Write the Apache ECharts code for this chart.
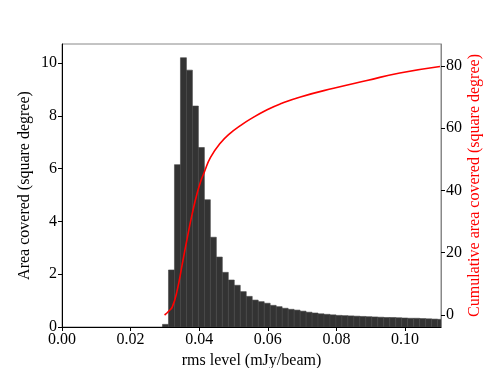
<!DOCTYPE html>
<html>
<head>
<meta charset="utf-8">
<script src="https://cdn.jsdelivr.net/npm/echarts@6/dist/echarts.min.js"></script>
<style>
html, body { margin: 0; padding: 0; background: #fff; }
#main { width: 490px; height: 368px; }
</style>
</head>
<body>
<div id="main"></div>
<script>
// histogram bins (mJy/beam)
var binStart = 0.0293;
var binWidth = 0.001744;
var areaCovered = [0.10, 2.16, 6.15, 10.2, 9.73, 8.37, 6.80, 4.82, 3.40, 2.65,
	2.07, 1.78, 1.58, 1.34, 1.16, 1.02, 0.96, 0.90, 0.82, 0.77,
	0.71, 0.67, 0.64, 0.60, 0.56, 0.53, 0.50, 0.48, 0.46, 0.44,
	0.43, 0.42, 0.41, 0.40, 0.39, 0.38, 0.37, 0.36, 0.36, 0.35,
	0.34, 0.33, 0.33, 0.32, 0.31, 0.30, 0.29];

// cumulative curve
var cumRms = [0.0299, 0.0311, 0.0322, 0.0336, 0.0351, 0.0365, 0.0380, 0.0394, 0.0406, 0.0414,
	0.0433, 0.0462, 0.0491, 0.0520, 0.0549, 0.0598, 0.0637, 0.0695, 0.0792, 0.0889, 0.0985, 0.1102];
var cumArea = [0.0, 1.2, 2.7, 8.0, 16.6, 24.6, 32.7, 39.1, 43.4, 45.6,
	50.6, 55.2, 58.4, 60.8, 62.9, 65.9, 67.8, 70.0, 72.8, 75.3, 77.7, 79.8];

var xTicks = [0, 0.02, 0.04, 0.06, 0.08, 0.10];
var leftTicks = [0, 2, 4, 6, 8, 10];
var rightTicks = [0, 20, 40, 60, 80];

var font = '"Liberation Serif", "DejaVu Serif", serif';

var bars = [];
for (var i = 0; i < areaCovered.length; i++) {
	bars.push([binStart + i * binWidth, binStart + (i + 1) * binWidth, areaCovered[i]]);
}
var curve = [];
for (var j = 0; j < cumRms.length; j++) {
	curve.push([cumRms[j], cumArea[j]]);
}

var chart = echarts.init(document.getElementById('main'));
var option = {
	animation: false,
	backgroundColor: '#fff',
	grid: {
		left: 62, right: 49, top: 44, bottom: 41,
		containLabel: false, outerBoundsMode: 'none',
		show: true, borderColor: '#888', borderWidth: 1
	},
	xAxis: {
		type: 'value',
		min: 0,
		max: 0.1105,
		name: 'rms level (mJy/beam)',
		nameLocation: 'middle',
		nameGap: 26,
		nameTextStyle: { fontFamily: font, fontSize: 16, color: '#000' },
		splitLine: { show: false },
		axisLine: { lineStyle: { color: '#000', width: 1 } },
		axisTick: { show: true, length: 4, lineStyle: { color: '#000' }, customValues: xTicks },
		axisLabel: {
			fontFamily: font, fontSize: 16, color: '#000', margin: 5,
			customValues: xTicks,
			formatter: function (v) { return v.toFixed(2); }
		}
	},
	yAxis: [{
		type: 'value',
		min: 0,
		max: 10.72,
		name: 'Area covered (square degree)',
		nameLocation: 'middle',
		nameGap: 29,
		nameMoveOverlap: false,
		nameTextStyle: { fontFamily: font, fontSize: 16, color: '#000' },
		splitLine: { show: false },
		axisLine: { show: true, lineStyle: { color: '#000', width: 1 } },
		axisTick: { show: true, length: 4, lineStyle: { color: '#000' }, customValues: leftTicks },
		axisLabel: { fontFamily: font, fontSize: 16, color: '#000', margin: 5, customValues: leftTicks }
	}, {
		type: 'value',
		position: 'right',
		min: -3.85,
		max: 87,
		name: 'Cumulative area covered (square degree)',
		nameLocation: 'middle',
		nameGap: 26,
		nameRotate: 90,
		nameMoveOverlap: false,
		nameTextStyle: { fontFamily: font, fontSize: 16, color: '#ff0000' },
		splitLine: { show: false },
		axisLine: { show: true, lineStyle: { color: '#888', width: 1 } },
		axisTick: { show: true, length: 4, lineStyle: { color: '#000' }, customValues: rightTicks },
		axisLabel: { fontFamily: font, fontSize: 16, color: '#000', margin: 5, customValues: rightTicks }
	}],
	series: [{
		type: 'custom',
		yAxisIndex: 0,
		clip: true,
		data: bars,
		encode: { x: [0, 1], y: 2 },
		renderItem: function (params, api) {
			var p0 = api.coord([api.value(0), api.value(2)]);
			var p1 = api.coord([api.value(1), 0]);
			var rect = echarts.graphic.clipRectByRect({
				x: p0[0], y: p0[1], width: p1[0] - p0[0], height: p1[1] - p0[1]
			}, {
				x: params.coordSys.x, y: params.coordSys.y,
				width: params.coordSys.width, height: params.coordSys.height
			});
			return rect && {
				type: 'rect',
				shape: rect,
				style: { fill: '#333333', stroke: '#444444', lineWidth: 0.6 }
			};
		}
	}, {
		type: 'line',
		yAxisIndex: 1,
		data: curve,
		smooth: true,
		showSymbol: false,
		lineStyle: { color: '#ff0000', width: 1.6 },
		z: 5
	}]
};
chart.setOption(option);
</script>
</body>
</html>
